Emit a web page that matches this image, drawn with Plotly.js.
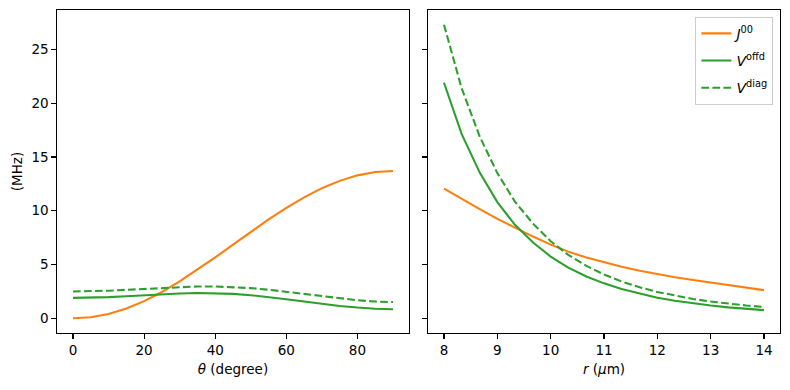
<!DOCTYPE html>
<html>
<head>
<meta charset="utf-8">
<script src="https://cdn.plot.ly/plotly-3.0.1.min.js"></script>
<style>html,body{margin:0;padding:0;background:#fff;}#chart{width:790px;height:390px;}</style>
</head>
<body>
<div id="chart"></div>
<script>
// Left panel: angle dependence
const theta = [0, 5, 10, 15, 20, 25, 30, 35, 40, 45, 50, 55, 60, 65, 70, 75, 80, 85, 90];
const J_theta = [0.00, 0.10, 0.41, 0.92, 1.60, 2.45, 3.43, 4.51, 5.66, 6.85, 8.04, 9.19, 10.27, 11.25, 12.10, 12.78, 13.29, 13.60, 13.70];
const Voffd_theta = [1.90, 1.92, 1.97, 2.05, 2.14, 2.24, 2.31, 2.35, 2.34, 2.27, 2.15, 1.98, 1.78, 1.56, 1.35, 1.15, 1.00, 0.89, 0.85];
const Vdiag_theta = [2.50, 2.52, 2.57, 2.65, 2.74, 2.83, 2.91, 2.96, 2.96, 2.91, 2.81, 2.66, 2.47, 2.26, 2.05, 1.85, 1.68, 1.56, 1.51];

// Right panel: distance dependence
const r = [8.00, 8.33, 8.67, 9.00, 9.33, 9.67, 10.00, 10.33, 10.67, 11.00, 11.33, 11.67, 12.00, 12.33, 12.67, 13.00, 13.33, 13.67, 14.00];
const J_r = [12.05, 11.08, 10.15, 9.25, 8.40, 7.60, 6.85, 6.20, 5.65, 5.20, 4.80, 4.43, 4.11, 3.82, 3.56, 3.31, 3.08, 2.85, 2.62];
const Voffd_r = [21.90, 17.15, 13.55, 10.80, 8.69, 7.05, 5.74, 4.71, 3.89, 3.25, 2.72, 2.28, 1.92, 1.64, 1.39, 1.19, 1.02, 0.88, 0.76];
const Vdiag_r = [27.30, 21.40, 16.90, 13.50, 10.85, 8.80, 7.17, 5.90, 4.88, 4.07, 3.42, 2.88, 2.45, 2.10, 1.80, 1.56, 1.36, 1.19, 1.05];

const names = ['<i>J</i><sup>00</sup>', '<i>V</i><sup>offd</sup>', '<i>V</i><sup>diag</sup>'];
const ORANGE = '#ff7f0e', GREEN = '#2ca02c';
const LW = 2.08;
const DASH = '7.7px,3.3px';

const traces = [
  {x: theta, y: J_theta, xaxis: 'x', yaxis: 'y', mode: 'lines', line: {color: ORANGE, width: LW}, showlegend: false},
  {x: theta, y: Voffd_theta, xaxis: 'x', yaxis: 'y', mode: 'lines', line: {color: GREEN, width: LW}, showlegend: false},
  {x: theta, y: Vdiag_theta, xaxis: 'x', yaxis: 'y', mode: 'lines', line: {color: GREEN, width: LW, dash: DASH}, showlegend: false},
  {x: r, y: J_r, xaxis: 'x2', yaxis: 'y2', mode: 'lines', name: names[0], legendgroup: 'a', line: {color: ORANGE, width: LW}},
  {x: r, y: Voffd_r, xaxis: 'x2', yaxis: 'y2', mode: 'lines', name: names[1], legendgroup: 'b', line: {color: GREEN, width: LW}},
  {x: r, y: Vdiag_r, xaxis: 'x2', yaxis: 'y2', mode: 'lines', name: names[2], legendgroup: 'c', line: {color: GREEN, width: LW, dash: DASH}}
];

const FONT = {family: 'DejaVu Sans', size: 13.5, color: '#000'};
const axisBase = {
  showgrid: false, zeroline: false, showline: true, mirror: true,
  linecolor: '#000', linewidth: 1.1, ticks: 'outside', ticklen: 4.5, tickwidth: 1.1, tickcolor: '#000',
  tickfont: FONT
};

const layout = {
  width: 790, height: 390,
  margin: {l: 0, r: 0, t: 0, b: 0},
  paper_bgcolor: '#fff', plot_bgcolor: '#fff',
  font: FONT,
  xaxis: Object.assign({}, axisBase, {
    domain: [57/790, 409/790], range: [-4.5, 94.5], tickvals: [0, 20, 40, 60, 80], anchor: 'y',
    title: {text: '<i>θ</i> (degree)', font: FONT, standoff: 7}
  }),
  yaxis: Object.assign({}, axisBase, {
    domain: [1 - 333/390, 1 - 10/390], range: [-1.365, 28.665], tickvals: [0, 5, 10, 15, 20, 25], anchor: 'x',
    title: {text: '(MHz)', font: FONT, standoff: 5}
  }),
  xaxis2: Object.assign({}, axisBase, {
    domain: [428/790, 780/790], range: [7.7, 14.3], tickvals: [8, 9, 10, 11, 12, 13, 14], anchor: 'y2',
    title: {text: '<i>r</i> (<i>μ</i>m)', font: FONT, standoff: 7}
  }),
  yaxis2: Object.assign({}, axisBase, {
    domain: [1 - 333/390, 1 - 10/390], range: [-1.365, 28.665], tickvals: [0, 5, 10, 15, 20, 25], anchor: 'x2',
    showticklabels: false, matches: 'y'
  }),
  legend: {
    x: 0.979, y: 0.957, xanchor: 'right', yanchor: 'top',
    bgcolor: 'rgba(255,255,255,0.8)', bordercolor: '#cccccc', borderwidth: 1,
    font: {family: 'DejaVu Sans', size: 14, color: '#000'}, tracegroupgap: 6, itemwidth: 30
  },
  showlegend: true
};

Plotly.newPlot('chart', traces, layout, {staticPlot: true, displayModeBar: false});
</script>
</body>
</html>
